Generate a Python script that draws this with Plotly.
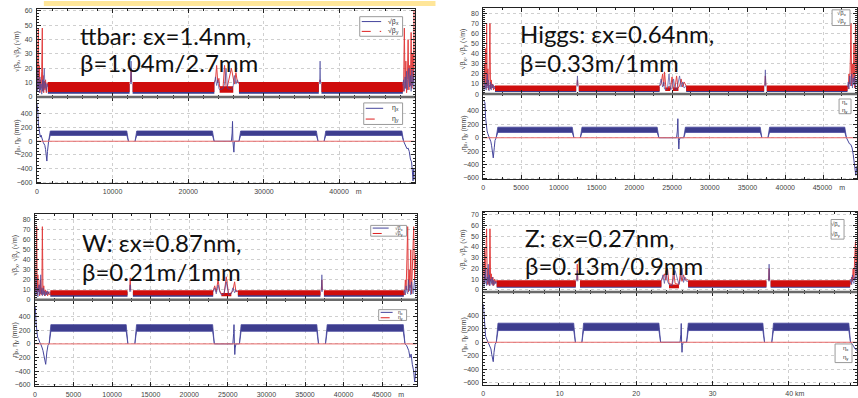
import plotly.graph_objects as go

W, H = 858, 398

# ---------------------------------------------------------------- ttbar
TT_ARC_START = [1450, 12650, 26700, 37600]
TT_ARC_END = [12250, 23450, 37250, 48350]
TT_BAND_X = [2.2, 9.0]
TT_BAND_Y = [3.5, 10.5]
TT_DIP_START = [24150]
TT_DIP_END = [25950]
TT_DIP_Y = [3.0, 7.5]
TT_IRL_S = [0, 60, 130, 200, 260, 330, 400, 480, 560, 640, 720, 760, 820, 900, 980, 1060, 1150, 1250, 1350, 1450]
TT_IRL_BX = [12, 4, 20, 6, 10, 3, 14, 5, 9, 2, 6, 12, 4, 9, 20, 6, 10, 4, 9, 7]
TT_IRL_BY = [24, 5, 30, 48, 6, 22, 3, 12, 6, 18, 48, 4, 15, 3, 11, 5, 12, 3, 10, 8]
TT_MID_S = [23450, 23600, 23750, 23900, 24050, 24150, 24600, 24800, 25000, 25200, 25700, 25950, 26100, 26300, 26500, 26700]
TT_MID_BX = [9, 14, 8, 12, 6, 5, 6, 9, 20, 6, 5, 8, 15, 9, 12, 9]
TT_MID_BY = [10, 12, 22, 10, 13, 7, 7, 22, 7, 8, 20, 12, 9, 17, 10, 10]
TT_IRR_S = [48350, 48450, 48550, 48650, 48750, 48850, 48950, 49050, 49150, 49250, 49350, 49450, 49550, 49650, 49750, 49850, 49900]
TT_IRR_BX = [8, 12, 4, 14, 6, 18, 5, 12, 20, 7, 15, 4, 19, 8, 14, 5, 20]
TT_IRR_BY = [9, 4, 48, 6, 25, 3, 12, 40, 5, 22, 8, 45, 6, 30, 10, 60, 20]
TT_SPIKE_S = [12450, 37420]
TT_SPIKE_BX = [25, 25]
TT_SPIKE_BY = [20, 12]
TT_ETA_ARC_START = [1550, 12970, 26700, 37950]
TT_ETA_ARC_END = [12100, 23420, 37150, 48450]
TT_ETA_BAND = [85, 150]
TT_ETAL_S = [0, 60, 130, 200, 280, 360, 450, 550, 650, 750, 850, 950, 1050, 1150, 1250, 1320, 1400, 1480, 1550]
TT_ETAL_V = [560, 500, 420, 250, 150, 100, 60, 90, 40, 10, -20, -40, -60, -120, -200, -290, -150, -20, 0]
TT_ETAM_S = [23420, 25700, 25800, 25850, 25900, 25980, 26030, 26100, 26700]
TT_ETAM_V = [0, 0, 120, 290, 0, -60, -160, 0, 0]
TT_ETAR_S = [48450, 48600, 48750, 48900, 49050, 49200, 49350, 49500, 49600, 49700, 49800, 49900]
TT_ETAR_V = [0, -40, -80, -110, -100, -150, -260, -300, -420, -580, -400, -560]

# ---------------------------------------------------------------- Higgs
HG_ARC_START = [1550, 12650, 26870, 37550]
HG_ARC_END = [12300, 23350, 37200, 48240]
HG_BAND_X = [2.0, 7.5]
HG_BAND_Y = [3.0, 8.5]
HG_DIP_START = [24100, 25100]
HG_DIP_END = [24750, 25850]
HG_DIP_Y = [3.0, 6.5]
HG_IRL_S = [0, 70, 140, 220, 300, 380, 440, 520, 600, 680, 760, 820, 880, 950, 1050, 1150, 1250, 1350, 1450, 1550]
HG_IRL_BX = [8, 3, 15, 5, 10, 4, 12, 20, 6, 14, 3, 9, 5, 12, 4, 10, 6, 9, 5, 7]
HG_IRL_BY = [20, 5, 30, 10, 45, 6, 70, 8, 25, 4, 15, 30, 70, 5, 14, 6, 10, 4, 8, 7]
HG_MID_S = [23350, 23550, 23750, 23900, 24000, 24200, 24400, 24600, 24800, 25000, 25200, 25400, 25600, 25800, 26000, 26200, 26400, 26600, 26870]
HG_MID_BX = [8, 15, 7, 12, 5, 4, 6, 20, 4, 6, 15, 5, 4, 10, 18, 7, 12, 6, 8]
HG_MID_BY = [8, 10, 20, 8, 22, 5, 4, 8, 5, 17, 5, 6, 18, 6, 8, 15, 7, 12, 8]
HG_IRR_S = [48240, 48340, 48440, 48540, 48640, 48700, 48800, 48900, 49000, 49100, 49200, 49300, 49400, 49500]
HG_IRR_BX = [7, 12, 5, 18, 8, 14, 20, 6, 16, 9, 18, 5, 15, 10]
HG_IRR_BY = [8, 5, 20, 10, 40, 70, 8, 30, 12, 50, 6, 70, 20, 40]
HG_SPIKE_S = [12470, 37360]
HG_SPIKE_BX = [18, 24]
HG_SPIKE_BY = [14, 18]
HG_ETA_ARC_START = [1700, 12850, 26550, 37700]
HG_ETA_ARC_END = [12000, 23250, 36900, 48100]
HG_ETA_BAND = [80, 158]
HG_ETAL_S = [0, 220, 300, 400, 500, 600, 700, 800, 900, 1000, 1100, 1200, 1320, 1450, 1550, 1700]
HG_ETAL_V = [560, 520, 300, 150, 100, 60, 30, 10, -20, -60, -120, -200, -300, -150, -40, 0]
HG_ETAM_S = [23250, 25600, 25700, 25770, 25830, 25900, 25960, 26050, 26550]
HG_ETAM_V = [0, 0, 100, 284, 0, -168, -40, 0, 0]
HG_ETAR_S = [48100, 48300, 48500, 48680, 48850, 49000, 49120, 49250, 49340, 49500]
HG_ETAR_V = [0, -40, -90, -100, -150, -250, -400, -480, -560, -420]

# ---------------------------------------------------------------- W
WW_ARC_START = [2000, 12700, 26300, 37450]
WW_ARC_END = [12000, 23100, 37000, 47800]
WW_BAND_X = [3.0, 8.0]
WW_BAND_Y = [4.5, 9.5]
WW_DIP_START = [24160]
WW_DIP_END = [25450]
WW_DIP_Y = [3.6, 6.8]
WW_IRL_S = [0, 100, 180, 236, 300, 380, 460, 540, 620, 700, 750, 820, 900, 970, 1050, 1150, 1250, 1350, 1450, 1550, 1650, 1750, 1850, 2000]
WW_IRL_BX = [10, 4, 22, 6, 12, 3, 9, 15, 5, 12, 25, 6, 10, 4, 12, 5, 9, 4, 8, 5, 9, 6, 8, 7]
WW_IRL_BY = [30, 8, 40, 73, 5, 25, 8, 15, 4, 20, 6, 12, 5, 73, 6, 14, 4, 10, 5, 9, 4, 8, 5, 7]
WW_MID_S = [23100, 23300, 23500, 23730, 23950, 24160, 24500, 24800, 25100, 25450, 25650, 25880, 26050, 26300]
WW_MID_BX = [8, 12, 6, 15, 8, 5, 6, 18, 5, 6, 12, 7, 10, 8]
WW_MID_BY = [9, 14, 8, 20, 9, 6, 5, 23, 6, 7, 9, 18, 8, 9]
WW_IRR_S = [47800, 47900, 48000, 48100, 48200, 48300, 48400, 48500, 48600, 48700, 48800, 48900, 49000, 49080, 49200, 49300, 49400]
WW_IRR_BX = [7, 10, 5, 14, 8, 6, 20, 9, 15, 5, 18, 10, 6, 12, 20, 8, 15]
WW_IRR_BY = [8, 5, 20, 10, 40, 73, 8, 30, 12, 50, 6, 25, 40, 73, 20, 45, 30]
WW_SPIKE_S = [12350, 37180]
WW_SPIKE_BX = [15, 25]
WW_SPIKE_BY = [22, 20]
WW_ETA_ARC_START = [1850, 12950, 26500, 37650]
WW_ETA_ARC_END = [12050, 23250, 36750, 47950]
WW_ETA_BAND = [185, 283]
WW_ETAL_S = [0, 80, 150, 250, 350, 450, 550, 650, 750, 850, 950, 1050, 1150, 1250, 1400, 1550, 1700, 1850]
WW_ETAL_V = [560, 500, 300, 150, 100, 80, 40, 20, 0, -20, -60, -100, -150, -220, -300, -120, -20, 0]
WW_ETAM_S = [23250, 25650, 25750, 25800, 25850, 25900, 25950, 26050, 26500]
WW_ETAM_V = [0, 0, 150, 283, 0, -156, -60, 0, 0]
WW_ETAR_S = [47950, 48150, 48300, 48440, 48600, 48750, 48900, 49080, 49200, 49300, 49450]
WW_ETAR_V = [0, -20, -60, -100, -200, -150, -300, -400, -560, -400, -300]

# ---------------------------------------------------------------- Z
ZZ_ARC_START = [1750, 12650, 26800, 37600]
ZZ_ARC_END = [12100, 23300, 37050, 48000]
ZZ_BAND_X = [2.0, 8.0]
ZZ_BAND_Y = [3.0, 9.0]
ZZ_DIP_START = [24300]
ZZ_DIP_END = [25600]
ZZ_DIP_Y = [1.5, 5.0]
ZZ_IRL_S = [0, 80, 160, 240, 320, 430, 520, 600, 650, 720, 800, 870, 950, 1050, 1150, 1250, 1350, 1450, 1550, 1650, 1750]
ZZ_IRL_BX = [10, 3, 15, 6, 20, 4, 12, 8, 24, 5, 14, 4, 10, 6, 12, 4, 9, 5, 8, 6, 7]
ZZ_IRL_BY = [25, 6, 40, 10, 30, 57, 5, 20, 6, 12, 4, 57, 8, 15, 5, 12, 4, 10, 6, 9, 7]
ZZ_MID_S = [23300, 23500, 23700, 23900, 24100, 24300, 24700, 24900, 25100, 25600, 25800, 26000, 26200, 26400, 26600, 26800]
ZZ_MID_BX = [8, 14, 6, 18, 8, 5, 4, 10, 18, 5, 10, 20, 7, 12, 8, 8]
ZZ_MID_BY = [9, 12, 15, 9, 20, 6, 5, 18, 6, 5, 16, 8, 14, 9, 10, 9]
ZZ_IRR_S = [48000, 48100, 48200, 48300, 48400, 48500, 48600, 48700, 48800, 48900]
ZZ_IRR_BX = [7, 10, 5, 14, 8, 6, 12, 9, 25, 10]
ZZ_IRR_BY = [8, 5, 12, 8, 20, 10, 30, 45, 15, 40]
ZZ_SPIKE_S = [12300, 37400]
ZZ_SPIKE_BX = [18, 24]
ZZ_SPIKE_BY = [24, 20]
ZZ_ETA_ARC_START = [1700, 12900, 26600, 37750]
ZZ_ETA_ARC_END = [12050, 23200, 36800, 48050]
ZZ_ETA_BAND = [175, 285]
ZZ_ETAL_S = [0, 60, 120, 200, 300, 400, 500, 600, 700, 800, 900, 1000, 1100, 1200, 1300, 1400, 1550, 1700]
ZZ_ETAL_V = [570, 480, 300, 150, 90, 60, 30, 10, -10, -30, -60, -100, -180, -250, -290, -150, -30, 0]
ZZ_ETAM_S = [23200, 25750, 25850, 25900, 25950, 26000, 26050, 26150, 26600]
ZZ_ETAM_V = [0, 0, 120, 280, 0, -150, -50, 0, 0]
ZZ_ETAR_S = [48050, 48250, 48450, 48650, 48900]
ZZ_ETAR_V = [0, -20, -60, -100, -120]

# ---------------------------------------------------------------- labels
TITLE_1 = ["ttbar: εx=1.4nm,", "Higgs: εx=0.64nm,", "W: εx=0.87nm,", "Z: εx=0.27nm,"]
TITLE_2 = ["β=1.04m/2.7mm", "β=0.33m/1mm", "β=0.21m/1mm", "β=0.13m/0.9mm"]
X_TICKS_10K = [0, 10000, 20000, 30000, 40000]
X_TICKS_5K = [0, 5000, 10000, 15000, 20000, 25000, 30000, 35000, 40000, 45000]
# the unit rides on the last label; the leading figure spaces keep the number centred on its tick
X_TEXT_10K = ["0", "10000", "20000", "30000", "\u2007\u2007\u200740000\u2002\u2002m"]
X_TEXT_5K = ["0", "5000", "10000", "15000", "20000", "25000", "30000", "35000", "40000",
             "\u2007\u2007\u200745000\u2002\u2002m"]
X_TEXT_KM = ["0", "10", "20", "30", "\u2007\u2007\u200740 km"]
BETA_LABEL = "√β<sub>x</sub>, √β<sub>y</sub> (√m)"
ETA_LABEL = "η<sub>x</sub>, η<sub>y</sub> (mm)"
BX_NAME, BY_NAME = "√β<sub>x</sub>", "√β<sub>y</sub>"
EX_NAME, EY_NAME = "η<sub>x</sub>", "η<sub>y</sub>"

BLUE = "#45459c"
BLUE_BAND = "#3d3d8e"
RED = "#dd1f1f"
RED_BAND = "#cf0e0e"
RED_ETA = "#e86a6a"

ns = globals()


def series(p, key):
    return ns[f"{p}_{key}"]


# page geometry of each panel: left, right, top, middle, bottom (px)
BOXES = {
    "TT": dict(l=35, r=414, t=8, m=98, b=186),
    "HG": dict(l=483, r=858, t=7, m=95, b=182),
    "WW": dict(l=33, r=416, t=217, m=305, b=393),
    "ZZ": dict(l=483, r=858, t=215, m=297, b=392),
}
RANGES = {
    "TT": dict(x=[0, 49900], b=[0, 61.4], e=[-615, 647], bdt=10, bmax=60),
    "HG": dict(x=[0, 49500], b=[0, 85.4], e=[-620, 651], bdt=10, bmax=80),
    "WW": dict(x=[0, 49450], b=[0, 86], e=[-620, 647], bdt=10, bmax=80),
    "ZZ": dict(x=[0, 48900], b=[-2, 73], e=[-640, 750], bdt=10, bmax=70),
}
XTICKS = {
    "TT": (X_TICKS_10K, X_TEXT_10K, 2000),
    "HG": (X_TICKS_5K, X_TEXT_5K, 2500),
    "WW": (X_TICKS_5K, X_TEXT_5K, 2500),
    "ZZ": (X_TICKS_10K, X_TEXT_KM, 2000),
}


def fx(px):
    return px / W


def fy(py):
    return 1 - py / H


def band_path(starts, ends, lo, hi):
    xs, ys = [], []
    for a, b in zip(starts, ends):
        xs += [a, b, b, a, a, None]
        ys += [lo, lo, hi, hi, lo, None]
    return xs, ys


def eta_arc_path(starts, ends, lo, hi, ramp=220):
    xs, ys = [], []
    for a, b in zip(starts, ends):
        xs += [a, a + ramp, b - ramp, b, b - ramp, a + ramp, a, None]
        ys += [0, hi, hi, 0, lo, lo, 0, None]
    return xs, ys


def joined(parts):
    xs, ys = [], []
    for x, y in parts:
        xs += list(x) + [None]
        ys += list(y) + [None]
    return xs, ys


def spikes(s, v, base):
    xs, ys = [], []
    for a, h in zip(s, v):
        xs += [a - 70, a, a + 70, None]
        ys += [base, h, base, None]
    return xs, ys


fig = go.Figure()
shapes, annos = [], []
TICKFONT = dict(family="Liberation Sans, Arial, sans-serif", size=7, color="#444")
layout_axes = {}

for idx, p in enumerate(["TT", "HG", "WW", "ZZ"]):
    bx = BOXES[p]
    rg = RANGES[p]
    kt, kb = 2 * idx + 1, 2 * idx + 2
    xt, yt = f"x{kt}", f"y{kt}"
    xb, yb = f"x{kb}", f"y{kb}"

    # ---- beta functions
    bxl, bxh = series(p, "BAND_X")
    byl, byh = series(p, "BAND_Y")
    x, y = band_path(series(p, "ARC_START"), series(p, "ARC_END"), bxl, bxh)
    fig.add_trace(go.Scatter(x=x, y=y, fill="toself", fillcolor=BLUE_BAND, mode="lines",
                             line=dict(width=0), xaxis=xt, yaxis=yt, hoverinfo="skip"))
    x, y = band_path(series(p, "ARC_START"), series(p, "ARC_END"), byl, byh)
    fig.add_trace(go.Scatter(x=x, y=y, fill="toself", fillcolor=RED_BAND, mode="lines",
                             line=dict(width=0), xaxis=xt, yaxis=yt, hoverinfo="skip"))
    dl, dh = series(p, "DIP_Y")
    x, y = band_path(series(p, "DIP_START"), series(p, "DIP_END"), dl, dh)
    fig.add_trace(go.Scatter(x=x, y=y, fill="toself", fillcolor=RED_BAND, mode="lines",
                             line=dict(width=0), xaxis=xt, yaxis=yt, hoverinfo="skip"))

    x, y = joined([(series(p, "IRL_S"), series(p, "IRL_BY")),
                   (series(p, "MID_S"), series(p, "MID_BY")),
                   (series(p, "IRR_S"), series(p, "IRR_BY"))])
    sx, sy = spikes(series(p, "SPIKE_S"), series(p, "SPIKE_BY"), byh)
    fig.add_trace(go.Scatter(x=x + sx, y=y + sy, mode="lines", line=dict(color=RED, width=1),
                             opacity=0.85, xaxis=xt, yaxis=yt, hoverinfo="skip"))
    x, y = joined([(series(p, "IRL_S"), series(p, "IRL_BX")),
                   (series(p, "MID_S"), series(p, "MID_BX")),
                   (series(p, "IRR_S"), series(p, "IRR_BX"))])
    sx, sy = spikes(series(p, "SPIKE_S"), series(p, "SPIKE_BX"), bxh)
    fig.add_trace(go.Scatter(x=x + sx, y=y + sy, mode="lines", line=dict(color=BLUE, width=0.8),
                             opacity=0.85, xaxis=xt, yaxis=yt, hoverinfo="skip"))

    # ---- dispersion
    el, eh = series(p, "ETA_BAND")
    x, y = eta_arc_path(series(p, "ETA_ARC_START"), series(p, "ETA_ARC_END"), el, eh)
    fig.add_trace(go.Scatter(x=x, y=y, fill="toself", fillcolor=BLUE_BAND, mode="lines",
                             line=dict(color=BLUE, width=0.8), xaxis=xb, yaxis=yb, hoverinfo="skip"))
    x, y = joined([(series(p, "ETAL_S"), series(p, "ETAL_V")),
                   (series(p, "ETAM_S"), series(p, "ETAM_V")),
                   (series(p, "ETAR_S"), series(p, "ETAR_V"))])
    fig.add_trace(go.Scatter(x=x, y=y, mode="lines", line=dict(color=BLUE, width=1),
                             xaxis=xb, yaxis=yb, hoverinfo="skip"))
    fig.add_trace(go.Scatter(x=rg["x"], y=[0, 0], mode="lines", line=dict(color=RED_ETA, width=1),
                             xaxis=xb, yaxis=yb, hoverinfo="skip"))

    # ---- axes
    tv, tt, minor_dt = XTICKS[p]
    common = dict(showline=True, linecolor="#222", linewidth=1, mirror="allticks",
                  ticks="inside", ticklen=4, tickcolor="#222", tickwidth=1,
                  showgrid=True, gridcolor="#cfcfcf", griddash="dot", gridwidth=1,
                  zeroline=False, tickfont=TICKFONT, fixedrange=True)
    xdom = [fx(bx["l"]), min(1.0, fx(bx["r"]))]
    layout_axes[f"xaxis{kt}"] = dict(common, domain=xdom, range=rg["x"], anchor=yt,
                                     tickvals=tv, showticklabels=False,
                                     minor=dict(ticks="inside", ticklen=2, dtick=minor_dt,
                                                tickcolor="#222", showgrid=False))
    layout_axes[f"xaxis{kb}"] = dict(common, domain=xdom, range=rg["x"], anchor=yb,
                                     tickvals=tv, ticktext=tt, ticklabelstandoff=1,
                                     minor=dict(ticks="inside", ticklen=2, dtick=minor_dt,
                                                tickcolor="#222", showgrid=False))
    btv = list(range(0, rg["bmax"] + 1, rg["bdt"]))
    layout_axes[f"yaxis{kt}"] = dict(common, domain=[fy(bx["m"]), fy(bx["t"])], range=rg["b"],
                                     anchor=xt, tickvals=btv, ticklabelstandoff=2,
                                     minor=dict(ticks="inside", ticklen=2, dtick=2,
                                                tickcolor="#222", showgrid=False))
    layout_axes[f"yaxis{kb}"] = dict(common, domain=[fy(bx["b"]), fy(bx["m"])], range=rg["e"],
                                     anchor=xb, tickvals=[-600, -400, -200, 0, 200, 400],
                                     ticklabelstandoff=2,
                                     minor=dict(ticks="inside", ticklen=2, dtick=50,
                                                tickcolor="#222", showgrid=False))

    # thick separator between the two frames
    shapes.append(dict(type="line", xref="paper", yref="paper", x0=fx(bx["l"]), x1=min(1.0, fx(bx["r"])),
                       y0=fy(bx["m"]), y1=fy(bx["m"]), line=dict(color="#6a6a6a", width=2.5), layer="above"))

    # y-axis titles
    yl = bx["l"] - 20
    for label, yc in ((BETA_LABEL, (bx["t"] + bx["m"]) / 2 - 2), (ETA_LABEL, (bx["m"] + bx["b"]) / 2 - 4)):
        annos.append(dict(text=label, x=fx(yl), y=fy(yc), xref="paper", yref="paper",
                          xanchor="center", yanchor="middle", textangle=-90, showarrow=False,
                          font=dict(family="Liberation Sans", size=7, color="#333")))

# big case labels
TITLE_POS = [(76, 35, 63), (518, 33, 63), (78, 246, 276), (523, 241, 270)]
for (xl, y1, y2), t1, t2 in zip(TITLE_POS, TITLE_1, TITLE_2):
    for yy, txt in ((y1, t1), (y2, t2)):
        annos.append(dict(text=txt, x=fx(xl), y=fy(yy), xref="paper", yref="paper", xanchor="left",
                          yanchor="middle", showarrow=False,
                          font=dict(family="Lato, Open Sans, sans-serif", size=24, color="#111")))


# legends
def legend_box(box, rows, lines, fs):
    x0, y0, x1, y1 = box
    shapes.append(dict(type="rect", xref="paper", yref="paper", x0=fx(x0), x1=fx(x1), y0=fy(y1), y1=fy(y0),
                       line=dict(color="#9a9a9a", width=1), fillcolor="white", layer="above"))
    n = len(rows)
    for i, (label, color, dash) in enumerate(rows):
        yc = y0 + (y1 - y0) * (i + 0.5) / n
        if lines:
            shapes.append(dict(type="line", xref="paper", yref="paper", x0=fx(x0 + 2), x1=fx(x0 + (x1 - x0) * 0.5),
                               y0=fy(yc), y1=fy(yc), line=dict(color=color, width=1, dash=dash), layer="above"))
        annos.append(dict(text=label, x=fx(x1 - 1.5), y=fy(yc), xref="paper", yref="paper", xanchor="right",
                          yanchor="middle", showarrow=False,
                          font=dict(family="Liberation Sans", size=fs, color="#333")))


BETA_ROWS = [(BX_NAME, BLUE, "solid"), (BY_NAME, RED, "dash")]
ETA_ROWS = [(EX_NAME, BLUE, "solid"), (EY_NAME, RED, "dash")]
legend_box((359, 16, 402, 36), BETA_ROWS, True, 7)
legend_box((363, 104, 402, 126), ETA_ROWS, True, 7)
legend_box((833, 9, 851, 25), BETA_ROWS, False, 6)
legend_box((840, 100, 852, 115), ETA_ROWS, False, 6)
legend_box((370, 229, 406, 240), BETA_ROWS, True, 5)
legend_box((378, 315, 406, 326), ETA_ROWS, True, 5)
legend_box((832, 223, 845, 243), BETA_ROWS, False, 6)
legend_box((836, 350, 853, 369), ETA_ROWS, False, 6)

# yellow strip along the top edge
shapes.append(dict(type="rect", xref="paper", yref="paper", x0=fx(42), x1=fx(435), y0=fy(5), y1=1,
                   line=dict(width=0), fillcolor="#ffe699", layer="below"))

fig.update_layout(
    width=W, height=H, margin=dict(l=0, r=0, t=0, b=0),
    paper_bgcolor="white", plot_bgcolor="white", showlegend=False,
    shapes=shapes, annotations=annos, **layout_axes,
)

fig.write_html("out.html", config={"displayModeBar": False})
